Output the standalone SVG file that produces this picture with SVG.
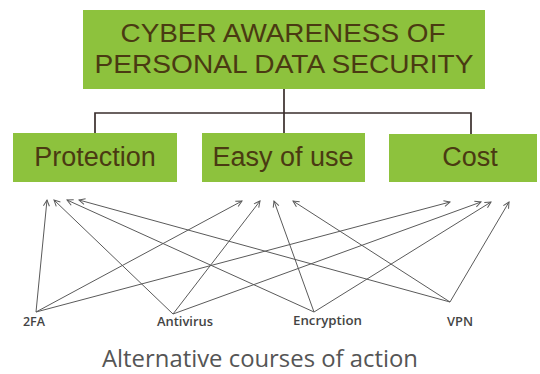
<svg xmlns="http://www.w3.org/2000/svg" width="540" height="374" viewBox="0 0 540 374">
  <style>
    .box { fill: #8dc23d; }
    .boxtext { font-family: "Liberation Sans", Arial, sans-serif; fill: #4a3a12; text-anchor: middle; }
    .tree { stroke: #3a2e2c; stroke-width: 1.7; fill: none; }
    .link { stroke: #5a5a5a; stroke-width: 1; fill: none; marker-end: url(#open); }
    .alt { font-family: "Open Sans", "Liberation Sans", sans-serif; font-weight: 600; font-size: 13px; fill: #444444; }
    .caption { font-family: "Open Sans", "Liberation Sans", sans-serif; font-size: 24.5px; fill: #555555; }
  </style>
  <defs>
    <marker id="open" viewBox="-8 -5 10 10" refX="0" refY="0" markerWidth="10" markerHeight="10" markerUnits="userSpaceOnUse" orient="auto">
      <path d="M-6,-3 L0,0 L-6,3" fill="none" stroke="#5a5a5a" stroke-width="1"/>
    </marker>
  </defs>

  <rect width="540" height="374" fill="#ffffff"/>

  <!-- hierarchy and links -->
  <g id="connectors">
    <path class="tree" d="M284,89 V133 M95,133 V113 H471 V135"/>

    <!-- 2FA -->
    <line class="link" x1="36" y1="312" x2="47" y2="200"/>
    <line class="link" x1="36" y1="312" x2="242" y2="201"/>
    <line class="link" x1="36" y1="312" x2="450" y2="202"/>
    <!-- Antivirus -->
    <line class="link" x1="173" y1="314" x2="54" y2="200"/>
    <line class="link" x1="173" y1="314" x2="260" y2="201"/>
    <line class="link" x1="173" y1="314" x2="481" y2="202"/>
    <!-- Encryption -->
    <line class="link" x1="314" y1="312" x2="67" y2="200"/>
    <line class="link" x1="314" y1="312" x2="274" y2="201"/>
    <line class="link" x1="314" y1="312" x2="491" y2="202"/>
    <!-- VPN -->
    <line class="link" x1="450" y1="302" x2="79" y2="200"/>
    <line class="link" x1="450" y1="302" x2="293" y2="201"/>
    <line class="link" x1="450" y1="302" x2="509" y2="202"/>
  </g>

  <g id="goal">
    <rect class="box" x="83" y="10" width="402" height="79"/>
    <text class="boxtext" x="283" y="42" font-size="26.5" textLength="325" lengthAdjust="spacingAndGlyphs">CYBER AWARENESS OF</text>
    <text class="boxtext" x="284" y="73" font-size="26.5" textLength="379" lengthAdjust="spacingAndGlyphs">PERSONAL DATA SECURITY</text>
  </g>

  <g id="protection">
    <rect class="box" x="13" y="133" width="164" height="49"/>
    <text class="boxtext" x="95" y="166" font-size="27">Protection</text>
  </g>

  <g id="ease">
    <rect class="box" x="202" y="133" width="163" height="49"/>
    <text class="boxtext" x="283" y="166" font-size="27">Easy of use</text>
  </g>

  <g id="cost">
    <rect class="box" x="389" y="134" width="148" height="48"/>
    <text class="boxtext" x="470" y="166" font-size="27">Cost</text>
  </g>

  <g id="twofa">
    <text class="alt" x="23" y="326" textLength="22" lengthAdjust="spacingAndGlyphs">2FA</text>
  </g>
  <g id="antivirus">
    <text class="alt" x="157" y="326" textLength="56" lengthAdjust="spacingAndGlyphs">Antivirus</text>
  </g>
  <g id="encryption">
    <text class="alt" x="293" y="325" textLength="69" lengthAdjust="spacingAndGlyphs">Encryption</text>
  </g>
  <g id="vpn">
    <text class="alt" x="447" y="326" textLength="26" lengthAdjust="spacingAndGlyphs">VPN</text>
  </g>

  <text class="caption" x="102" y="367" textLength="316" lengthAdjust="spacingAndGlyphs">Alternative courses of action</text>
</svg>
